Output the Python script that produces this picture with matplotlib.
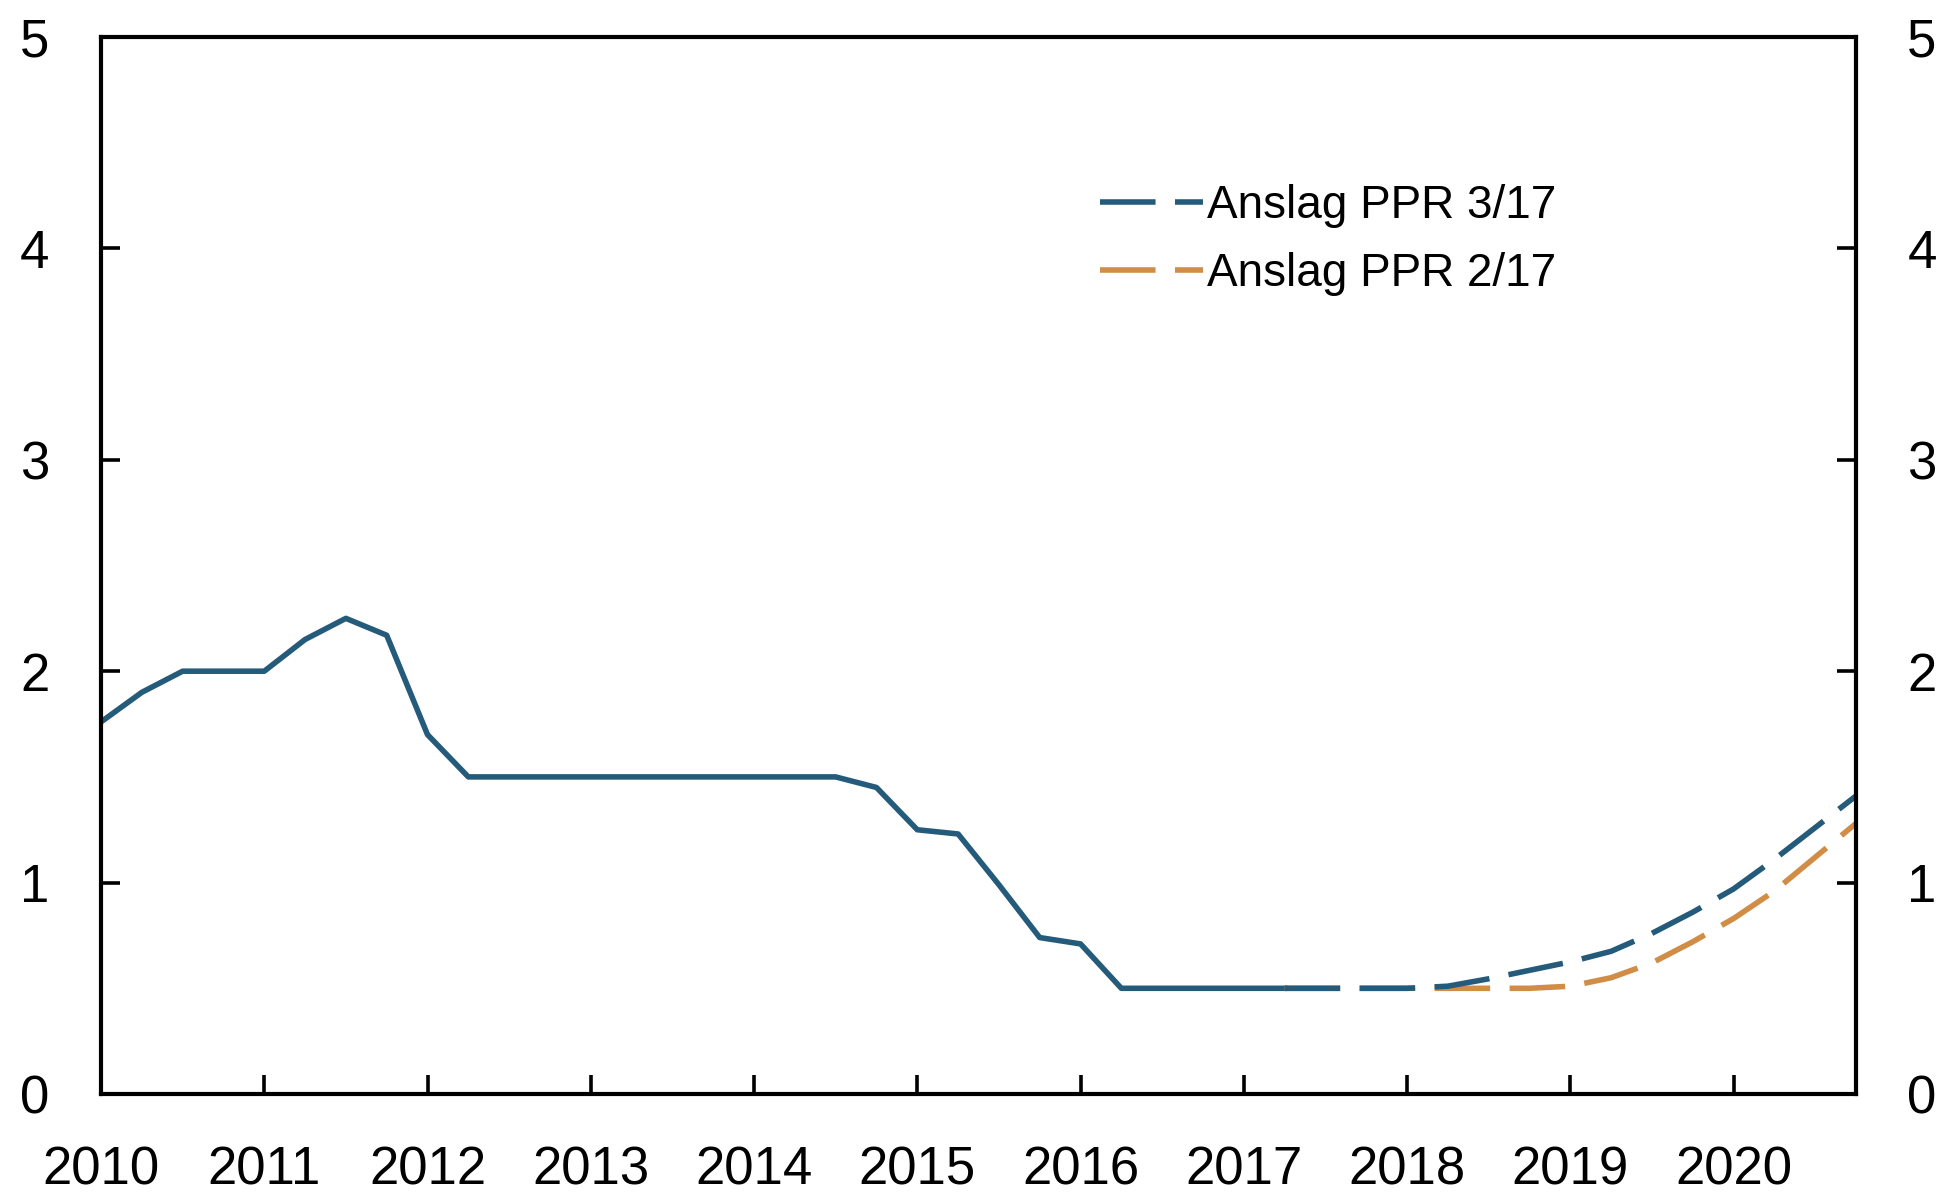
import numpy as np
import matplotlib
matplotlib.use("Agg")
import matplotlib.pyplot as plt

# policy rate, quarterly, from 2010Q1
hist_x = np.arange(2010.0, 2017.26, 0.25)
hist_y = [1.76, 1.9, 2.0, 2.0, 2.0, 2.15, 2.25, 2.17,
          1.7, 1.5, 1.5, 1.5, 1.5, 1.5, 1.5, 1.5,
          1.5, 1.5, 1.5, 1.45, 1.25, 1.23, 0.99, 0.74,
          0.71, 0.5, 0.5, 0.5, 0.5, 0.5]

# forecasts from 2017Q2
fc_x = np.arange(2017.25, 2020.76, 0.25)
ppr_317 = [0.5, 0.5, 0.5, 0.5, 0.51, 0.545, 0.585, 0.625,
           0.675, 0.76, 0.86, 0.97, 1.11, 1.26, 1.41]
ppr_217 = [0.5, 0.5, 0.5, 0.5, 0.5, 0.5, 0.5, 0.51,
           0.55, 0.62, 0.72, 0.83, 0.96, 1.12, 1.28]

years = list(range(2010, 2021))
yticks = [0, 1, 2, 3, 4, 5]

blue = '#245B7B'
orange = '#D18D45'

plt.rcParams['font.family'] = ['Liberation Sans', 'DejaVu Sans']

fig = plt.figure(figsize=(19.49, 11.92), dpi=100)
ax = fig.add_axes([101/1949, 1 - 1094/1192, 1755/1949, 1057/1192])

lw = 4.0
ax.plot(hist_x, hist_y, color=blue, lw=lw, solid_joinstyle='round')
l2, = ax.plot(fc_x, ppr_217, color=orange, lw=lw, dashes=(10, 3.5),
              label='Anslag PPR 2/17')
l1, = ax.plot(fc_x, ppr_317, color=blue, lw=lw, dashes=(10, 3.5),
              label='Anslag PPR 3/17')

ax.set_xlim(2010, 2020.75)
ax.set_ylim(0, 5)
ax.set_xticks(years)
ax.set_xticklabels([str(y) for y in years])
ax.set_yticks(yticks)

for s in ax.spines.values():
    s.set_linewidth(3.0)

ax.tick_params(axis='both', direction='in', length=14, width=2.6,
               labelsize=38, pad=37)
ax.tick_params(axis='y', left=True, right=True, labelleft=True, labelright=True)

leg = ax.legend(handles=[l1, l2], loc='upper left',
                bbox_to_anchor=(0.569, 0.861), frameon=False,
                fontsize=33, handlelength=2.25, handletextpad=0.1,
                labelspacing=0.52, borderpad=0, borderaxespad=0)

fig.savefig('out.png', dpi=100)
